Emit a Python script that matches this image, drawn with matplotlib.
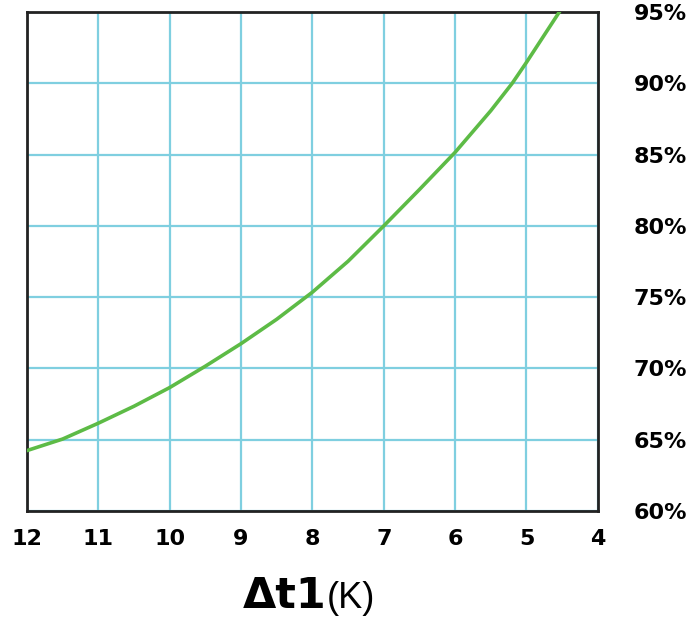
import matplotlib
matplotlib.use('Agg')
import matplotlib.pyplot as plt

# values
dt1 = [12, 11.5, 11, 10.5, 10, 9.5, 9, 8.5, 8, 7.5, 7, 6.5, 6, 5.5, 5.2, 5, 4.54]
eff = [64.24, 65.05, 66.16, 67.35, 68.66, 70.16, 71.74, 73.45, 75.35, 77.52,
       80.0, 82.55, 85.16, 88.08, 90.0, 91.47, 95.0]

x_ticks = [12, 11, 10, 9, 8, 7, 6, 5, 4]
y_ticks = [60, 65, 70, 75, 80, 85, 90, 95]
y_labels = [f'{v}%' for v in y_ticks]

fig = plt.figure(figsize=(6.97, 6.18), dpi=100)
ax = fig.add_axes([0.0387, 0.1731, 0.819, 0.8074])

ax.plot(dt1, eff, color='#5dbb46', lw=2.6, solid_joinstyle='round', zorder=3)

ax.set_xlim(12, 4)
ax.set_ylim(60, 95)
ax.set_xticks(x_ticks)
ax.set_yticks(y_ticks)
ax.set_yticklabels(y_labels)
ax.yaxis.tick_right()
ax.tick_params(length=0)
ax.tick_params(axis='y', pad=26)
ax.tick_params(axis='x', pad=13)
for lbl in ax.get_xticklabels() + ax.get_yticklabels():
    lbl.set_fontfamily('DejaVu Sans')
    lbl.set_fontweight('bold')
    lbl.set_fontsize(16)
for lbl in ax.get_yticklabels():
    lbl.set_horizontalalignment('left')

ax.grid(True, color='#7fcfe0', lw=1.6, zorder=1)
for s in ax.spines.values():
    s.set_color('#222222')
    s.set_linewidth(2)

fig.text(0.469, 0.016, '\u0394t1', fontsize=31, fontweight='bold',
         family='DejaVu Sans', ha='right', va='baseline')
fig.text(0.469, 0.016, '(K)', fontsize=26, family='Liberation Sans',
         ha='left', va='baseline')

fig.savefig('out.png', dpi=100)
